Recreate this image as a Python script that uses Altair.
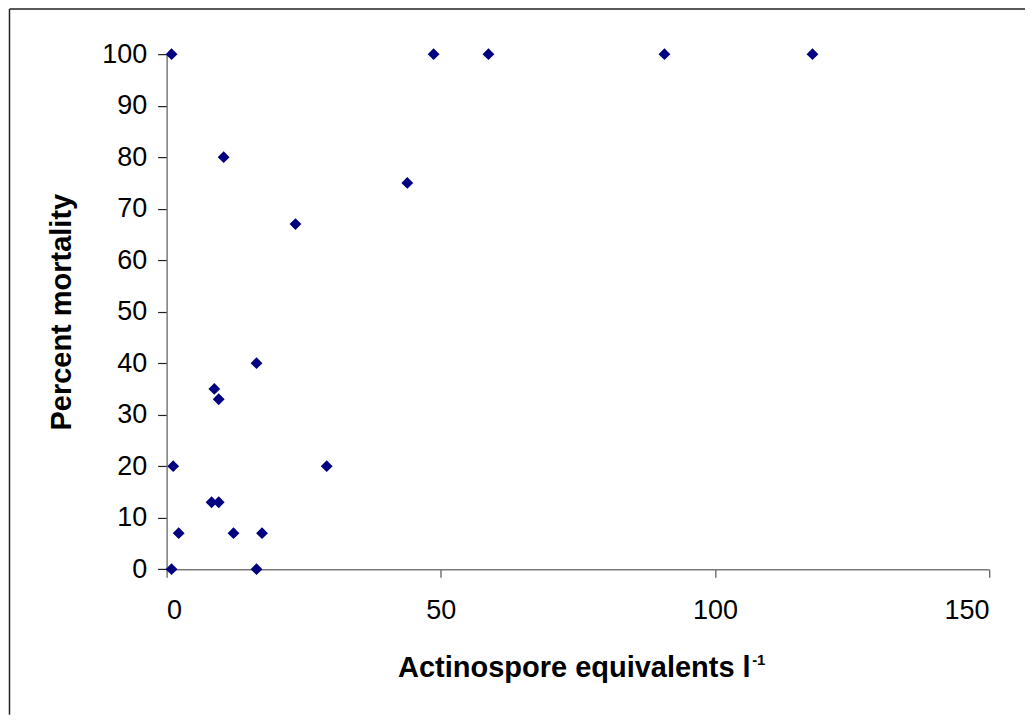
import altair as alt
import pandas as pd

# Data
actinospores = [0.9, 48.7, 58.7, 90.8, 117.8, 10.4, 43.9, 23.5, 16.4, 8.7,
                9.5, 1.2, 29.2, 8.2, 9.5, 2.2, 12.2, 17.4, 0.9, 16.4]
mortality = [100, 100, 100, 100, 100, 80, 75, 67, 40, 35,
             33, 20, 20, 13, 13, 7, 7, 7, 0, 0]
x_ticks = [0, 50, 100, 150]
y_ticks = [0, 10, 20, 30, 40, 50, 60, 70, 80, 90, 100]
x_title_main = "Actinospore equivalents l"
x_title_sup = "-1"
y_title = "Percent mortality"

W = 822.8
H = 515.3
PAD = {"left": 158.7, "top": 46, "right": 36, "bottom": 145.7}

df = pd.DataFrame({"x": actinospores, "y": mortality})
one = pd.DataFrame({"k": [0]})

points = alt.Chart(df).mark_point(
    shape="diamond", filled=True, size=140, color="#000080", opacity=1
).encode(
    x=alt.X("x:Q", scale=alt.Scale(domain=[0, 150], nice=False),
            axis=alt.Axis(values=x_ticks, title=None, grid=False,
                          domainColor="#7a7a7a", domainWidth=1.5,
                          tickColor="#555555", tickSize=8, tickWidth=1.2,
                          labelFont="Liberation Sans", labelFontSize=27,
                          labelColor="#000000", labelPadding=20)),
    y=alt.Y("y:Q", scale=alt.Scale(domain=[0, 100], nice=False),
            axis=alt.Axis(values=y_ticks, title=y_title, grid=False,
                          domainColor="#7a7a7a", domainWidth=1.5,
                          tickColor="#222222", tickSize=9, tickWidth=1.2,
                          labelFont="Liberation Sans", labelFontSize=27,
                          labelColor="#000000", labelPadding=11,
                          titleFont="Liberation Sans", titleFontSize=29,
                          titleFontWeight="bold", titleColor="#000000",
                          titleAngle=270, titleAlign="center",
                          titleBaseline="bottom", titleX=-90, titleY=H / 2)),
)

xtitle = alt.Chart(one).mark_text(
    text=x_title_main, align="right", baseline="alphabetic",
    font="Liberation Sans", fontSize=29, fontWeight="bold", color="#000000"
).encode(x=alt.value(751 - 166.7), y=alt.value(677 - 54))

xsup = alt.Chart(one).mark_text(
    text=x_title_sup, align="left", baseline="alphabetic",
    font="Liberation Sans", fontSize=15, fontWeight="bold", color="#000000"
).encode(x=alt.value(752.5 - 166.7), y=alt.value(665 - 54))

frame_top = alt.Chart(one).mark_rule(color="#222222", strokeWidth=1.5).encode(
    x=alt.value(-157.2), x2=alt.value(W + PAD["right"]), y=alt.value(-45.2)
)
frame_left = alt.Chart(one).mark_rule(color="#222222", strokeWidth=1.5).encode(
    x=alt.value(-157.2), y=alt.value(-45.2), y2=alt.value(H + PAD["bottom"])
)

chart = alt.layer(frame_top, frame_left, points, xtitle, xsup).properties(
    width=W, height=H, padding=PAD,
    autosize=alt.AutoSizeParams(type="none"),
    background="white",
).configure_view(stroke=None)

chart.save("out.html", embed_options={"renderer": "svg", "actions": False})
